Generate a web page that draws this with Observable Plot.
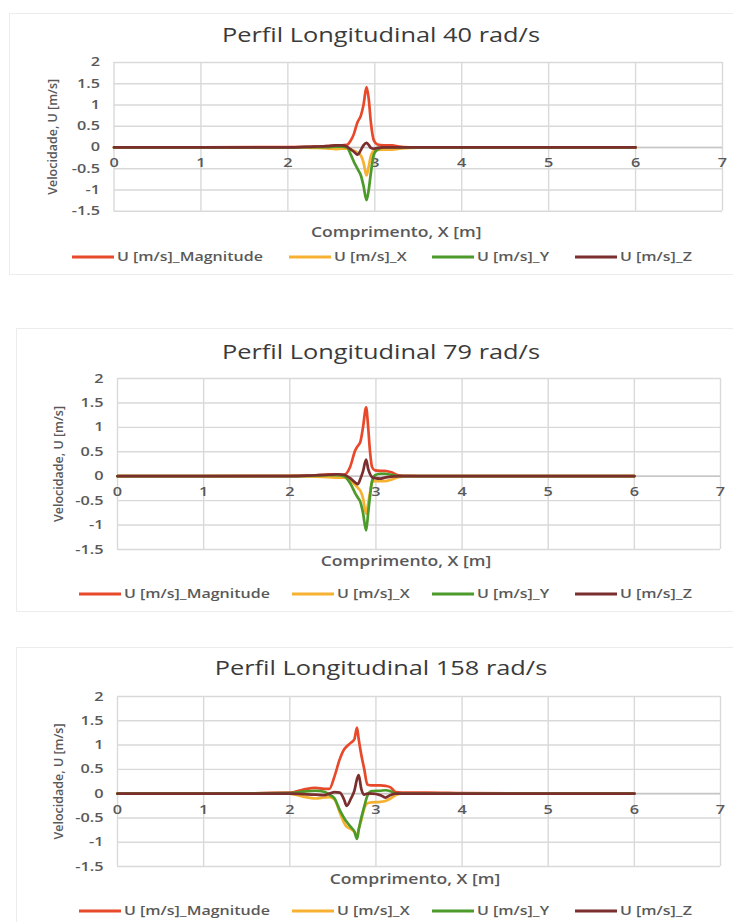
<!DOCTYPE html>
<html><head><meta charset="utf-8">
<script src="https://cdn.jsdelivr.net/npm/d3@7"></script>
<script src="https://cdn.jsdelivr.net/npm/@observablehq/plot@0.6"></script>
<style>
body{margin:0;background:#fff;font-family:"Open Sans",sans-serif;}
#root{position:relative;width:733px;height:922px;overflow:hidden;background:#fff}
.panel{position:absolute;background:#fff;border:1px solid #ececec;box-sizing:border-box}
.title{position:absolute;left:0;width:762px;text-align:center;font-size:19.5px;color:#3a3a3a;line-height:1;transform:translateY(-50%) scaleX(1.3);transform-origin:381px 50%;white-space:nowrap}
.leg{position:absolute;font-size:12.5px;color:#595959;font-weight:600;white-space:nowrap;line-height:1;transform:translateY(-50%) scaleX(1.28);transform-origin:0 50%}
.sw{position:absolute;height:3px;transform:translateY(-50%)}
svg{position:absolute;left:0;overflow:visible}
</style></head><body><div id="root"></div>
<script>
// ---------- data ----------
const xTicks = [0, 1, 2, 3, 4, 5, 6, 7];
const yTicks = [-1.5, -1, -0.5, 0, 0.5, 1, 1.5, 2];
const seriesNames = ["U [m/s]_Magnitude", "U [m/s]_X", "U [m/s]_Y", "U [m/s]_Z"];
const seriesColors = ["#E8492A", "#F7B131", "#4C9A2A", "#7A2E2E"];
const chartTitles = ["Perfil Longitudinal 40 rad/s", "Perfil Longitudinal 79 rad/s", "Perfil Longitudinal 158 rad/s"];
const xAxisTitle = "Comprimento, X [m]";
const yAxisTitle = "Velocidade, U [m/s]";

// 40 rad/s
const x40   = [0, 1, 2, 2.3, 2.45, 2.55, 2.62, 2.68, 2.72, 2.76, 2.8, 2.84, 2.87, 2.905, 2.93, 2.955, 2.99, 3.03, 3.1, 3.2, 3.28, 3.4, 3.6, 4, 5, 6];
const mag40 = [0, 0, 0.01, 0.02, 0.03, 0.05, 0.05, 0.06, 0.15, 0.32, 0.59, 0.75, 1.0, 1.42, 1.15, 0.59, 0.16, 0.07, 0.05, 0.05, 0.02, 0.005, 0, 0, 0, 0];
const ux40  = [0, 0, 0, -0.01, -0.02, -0.04, -0.03, -0.03, -0.05, -0.08, -0.12, -0.19, -0.35, -0.66, -0.45, -0.2, -0.08, -0.06, -0.05, -0.05, -0.03, -0.01, 0, 0, 0, 0];
const uy40  = [0, 0, 0, 0.01, 0.01, 0.02, 0.02, 0, -0.15, -0.34, -0.5, -0.66, -0.9, -1.24, -1.0, -0.6, -0.16, -0.05, 0, 0, 0, 0, 0, 0, 0, 0];
const uz40  = [0, 0, 0, 0.02, 0.03, 0.05, 0.05, 0.02, -0.04, -0.1, -0.17, -0.06, 0.05, 0.11, 0.06, -0.01, -0.03, -0.01, 0, 0, 0, 0, 0, 0, 0, 0];

// 79 rad/s
const x79   = [0, 1, 2, 2.3, 2.45, 2.55, 2.63, 2.7, 2.76, 2.79, 2.82, 2.85, 2.886, 2.91, 2.93, 2.955, 2.99, 3.05, 3.1, 3.18, 3.26, 3.4, 3.6, 4, 5, 6];
const mag79 = [0, 0, 0.01, 0.02, 0.04, 0.04, 0.03, 0.19, 0.53, 0.62, 0.71, 1.0, 1.41, 1.0, 0.53, 0.19, 0.12, 0.11, 0.11, 0.08, 0.02, 0.005, 0, 0, 0, 0];
const ux79  = [0, 0, 0, -0.01, -0.02, -0.03, -0.03, -0.08, -0.18, -0.24, -0.3, -0.45, -0.77, -0.55, -0.35, -0.12, -0.1, -0.1, -0.1, -0.07, -0.02, 0, 0, 0, 0, 0];
const uy79  = [0, 0, 0, 0.01, 0.02, 0.02, 0, -0.14, -0.35, -0.44, -0.53, -0.75, -1.11, -0.75, -0.43, -0.1, 0.02, 0.05, 0.05, 0.03, 0, 0, 0, 0, 0, 0];
const uz79  = [0, 0, 0, 0.02, 0.03, 0.04, 0.03, -0.04, -0.13, -0.16, -0.05, 0.1, 0.34, 0.15, 0.05, -0.02, -0.04, -0.05, -0.03, -0.01, 0, 0, 0, 0, 0, 0];

// 158 rad/s
const x158   = [0, 1, 2, 2.15, 2.3, 2.4, 2.46, 2.52, 2.58, 2.63, 2.66, 2.71, 2.75, 2.78, 2.8, 2.83, 2.865, 2.9, 2.95, 3.05, 3.11, 3.17, 3.23, 3.3, 3.6, 4, 5, 6];
const mag158 = [0, 0, 0.02, 0.08, 0.12, 0.1, 0.1, 0.36, 0.71, 0.91, 0.97, 1.05, 1.12, 1.36, 1.12, 0.8, 0.5, 0.19, 0.17, 0.17, 0.16, 0.13, 0.03, 0.02, 0.02, 0.01, 0, 0];
const ux158  = [0, 0, 0, -0.06, -0.1, -0.08, -0.07, -0.12, -0.39, -0.6, -0.68, -0.73, -0.79, -0.88, -0.72, -0.55, -0.3, -0.2, -0.18, -0.17, -0.15, -0.1, -0.03, 0, 0, 0, 0, 0];
const uy158  = [0, 0, 0.01, 0.04, 0.06, 0.04, -0.02, -0.1, -0.34, -0.5, -0.58, -0.69, -0.78, -0.93, -0.75, -0.5, -0.26, -0.05, 0.05, 0.06, 0.07, 0.05, 0, 0, 0, 0, 0, 0];
const uz158  = [0, 0, 0, -0.01, -0.02, -0.03, 0, 0.03, 0.02, -0.12, -0.25, -0.1, 0.06, 0.3, 0.38, 0.1, -0.02, 0, 0, -0.03, -0.08, -0.03, 0, 0, 0, 0, 0, 0];

// ---------- layout ----------
const charts = [
  {title: chartTitles[0], xs: x40, ys: [mag40, ux40, uy40, uz40],
   panel: {top: 13, left: 9, bottom: 275}, titleY: 35, plotTop: 62.3, plotBottom: 211,
   plotLeft: 113.5, plotRight: 722, yTitleX: 52, xTitleY: 237, xTitleDx: -22, legendY: 257, legX: [72, 289, 432, 575]},
  {title: chartTitles[1], xs: x79, ys: [mag79, ux79, uy79, uz79],
   panel: {top: 328, left: 16, bottom: 612}, titleY: 352, plotTop: 378, plotBottom: 549,
   plotLeft: 117, plotRight: 720, yTitleX: 58, xTitleY: 565, xTitleDx: -13, legendY: 594, legX: [79, 292, 432, 575]},
  {title: chartTitles[2], xs: x158, ys: [mag158, ux158, uy158, uz158],
   panel: {top: 647, left: 16, bottom: 930}, titleY: 668, plotTop: 696, plotBottom: 866,
   plotLeft: 117, plotRight: 720, yTitleX: 58, xTitleY: 883, xTitleDx: -4, legendY: 911, legX: [79, 292, 432, 575]}
];

const root = document.getElementById("root");

function el(tag, cls, styles, text) {
  const e = document.createElement(tag);
  if (cls) e.className = cls;
  Object.assign(e.style, styles || {});
  if (text != null) e.textContent = text;
  root.appendChild(e);
  return e;
}

// the reference picture is stretched horizontally; widen horizontal text to match
function stretchText(svg, k, skip) {
  svg.querySelectorAll("text").forEach(t => {
    if (t.textContent === skip) return;
    const L = t.getComputedTextLength();
    if (L > 0) {
      t.setAttribute("textLength", (L * k).toFixed(1));
      t.setAttribute("lengthAdjust", "spacingAndGlyphs");
    }
  });
}

for (const c of charts) {
  el("div", "panel", {top: c.panel.top + "px", left: c.panel.left + "px", width: (733 - c.panel.left + 2) + "px", height: (c.panel.bottom - c.panel.top) + "px"});
  el("div", "title", {top: c.titleY + "px"}, c.title);

  const mt = 10;
  const mb = (c.xTitleY - c.plotBottom) + 12;
  const H = mt + (c.plotBottom - c.plotTop) + mb;
  const rows = seriesNames.map((name, i) => c.xs.map((x, j) => ({x, v: c.ys[i][j], s: name})));

  const svg = Plot.plot({
    width: 733, height: H,
    marginLeft: c.plotLeft, marginRight: 733 - c.plotRight, marginTop: mt, marginBottom: mb,
    x: {domain: [0, 7], axis: null},
    y: {domain: [-1.5, 2]},
    style: {fontFamily: "'Open Sans', sans-serif", fontSize: "12px", color: "#595959", background: "transparent", overflow: "visible"},
    marks: [
      Plot.gridX(xTicks, {stroke: "#d9d9d9", strokeOpacity: 1, strokeWidth: 1.4}),
      Plot.gridY(yTicks, {stroke: "#d9d9d9", strokeOpacity: 1, strokeWidth: 1.4}),
      Plot.ruleY([0], {stroke: "#c6c6c6", strokeWidth: 1.6}),
      Plot.axisY(yTicks, {anchor: "left", tickSize: 0, tickPadding: 14, tickFormat: d => String(d), label: null, fill: "#595959", fontWeight: 600, fontSize: 12.5}),
      Plot.text(xTicks, {x: d => d, y: 0, dy: 16, text: d => String(d), fill: "#595959", fontWeight: 600, fontSize: 12.5}),
      ...rows.map((r, i) => Plot.line(r, {x: "x", y: "v", stroke: seriesColors[i], strokeWidth: 2.7, curve: "monotone-x"})),
      Plot.text([yAxisTitle], {frameAnchor: "left", dx: c.yTitleX - c.plotLeft, rotate: -90, textAnchor: "middle", fill: "#595959", fontWeight: 600, fontSize: 12.5}),
      Plot.text([xAxisTitle], {frameAnchor: "bottom", dx: c.xTitleDx, dy: c.xTitleY - c.plotBottom, textAnchor: "middle", fill: "#595959", fontWeight: 600, fontSize: 13.5})
    ]
  });
  svg.style.top = (c.plotTop - mt) + "px";
  root.appendChild(svg);
  stretchText(svg, 1.3, yAxisTitle);

  seriesNames.forEach((name, i) => {
    el("div", "sw", {left: c.legX[i] + "px", top: c.legendY + "px", width: "42px", background: seriesColors[i]});
    el("div", "leg", {left: (c.legX[i] + 45) + "px", top: c.legendY + "px"}, name);
  });
}
</script></body></html>
